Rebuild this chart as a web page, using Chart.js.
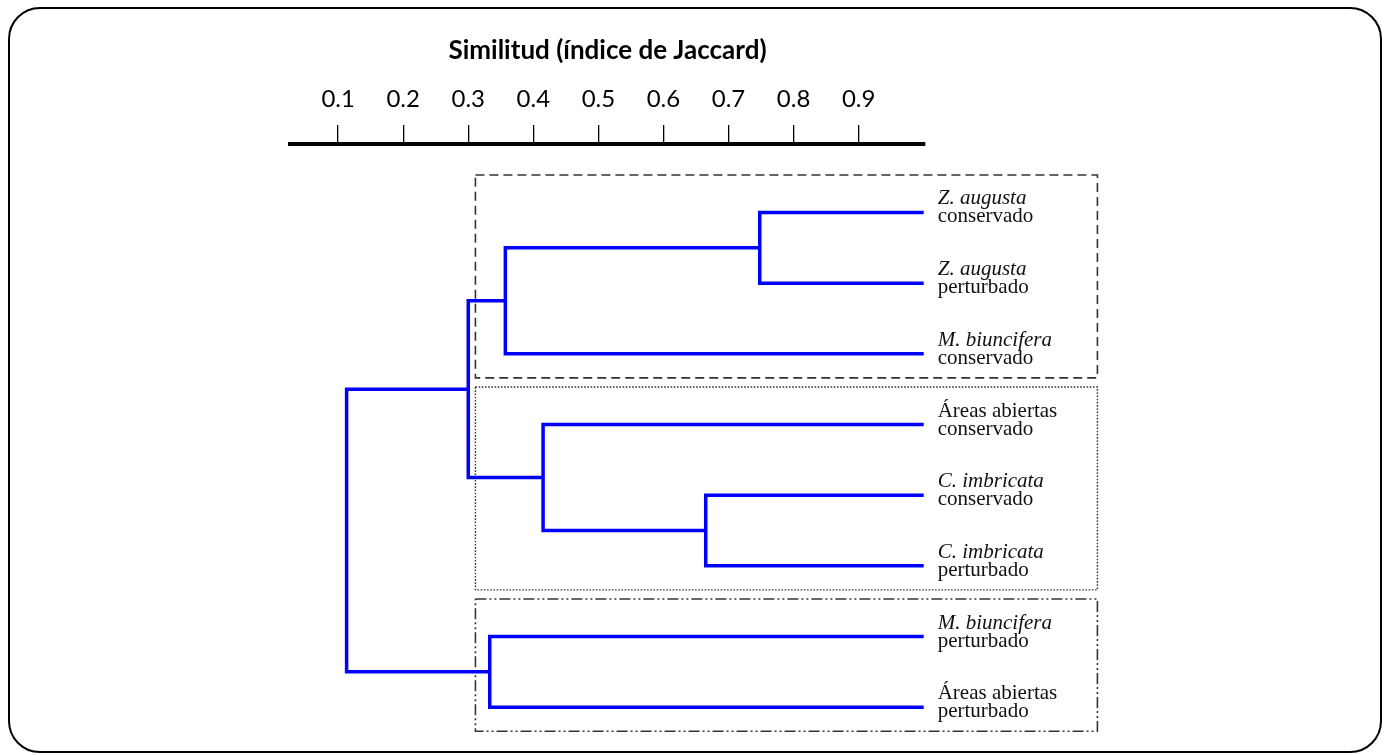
<!DOCTYPE html>
<html>
<head>
<meta charset="utf-8">
<script src="https://cdn.jsdelivr.net/npm/chart.js@4"></script>
<style>
    html, body { margin: 0; padding: 0; background: #fff; }
    #wrap   { position: relative; width: 1389px; height: 755px; }
    #frame  { position: absolute; left: 8px; top: 7px; width: 1370px; height: 742px;
              border: 2.5px solid #000; border-radius: 32px; pointer-events: none; }
</style>
</head>
<body>
<div id="wrap">
    <canvas id="dendro" width="1389" height="755"></canvas>
    <div id="frame"></div>
</div>
<script>
// leaves, top to bottom
const leafSpecies = ['Z. augusta', 'Z. augusta', 'M. biuncifera', 'Áreas abiertas', 'C. imbricata', 'C. imbricata', 'M. biuncifera', 'Áreas abiertas']
const leafItalic  = [true, true, true, false, true, true, true, false]
const leafState   = ['conservado', 'perturbado', 'conservado', 'conservado', 'conservado', 'perturbado', 'perturbado', 'perturbado']

// merges: cluster ids 0..7 are leaves, merge k makes cluster 8 + k
const mergeLeft       = [0, 8, 4, 3, 9, 6, 12]
const mergeRight      = [1, 2, 5, 10, 11, 7, 13]
const mergeSimilarity = [0.748, 0.357, 0.665, 0.415, 0.300, 0.333, 0.113]

// groups framed by boxes (first and last leaf)
const groupFirst = [0, 3, 6]
const groupLast  = [2, 5, 7]

const tickValues = [0.1, 0.2, 0.3, 0.4, 0.5, 0.6, 0.7, 0.8, 0.9]
const axisTitle  = 'Similitud (índice de Jaccard)'

// cluster positions (x = similarity, y = leaf row)
const nodeX = leafSpecies.map(() => 1.0)
const nodeY = leafSpecies.map((s, i) => i)
mergeSimilarity.forEach((s, k) => {
    nodeX.push(s)
    nodeY.push((nodeY[mergeLeft[k]] + nodeY[mergeRight[k]]) / 2)
})

const blue = '#0000ff'
const datasets = []

mergeSimilarity.forEach((s, k) => {
    let a = mergeLeft[k]
    let b = mergeRight[k]
    datasets.push({
        data: [
            { x: nodeX[a], y: nodeY[a] },
            { x: s, y: nodeY[a] },
            { x: s, y: nodeY[b] },
            { x: nodeX[b], y: nodeY[b] },
        ],
        borderColor: blue,
        borderWidth: 3.5,
        borderJoinStyle: 'miter',
        pointRadius: 0,
        showLine: true,
        tension: 0,
        clip: false,
    })
})

const boxDash  = [[9, 5], [1.6, 1.6], [11, 3, 2, 3, 2, 3]]
const boxLeft  = 0.311
const boxRight = 1.267
groupFirst.forEach((f, g) => {
    let top = f - 0.53
    let bot = groupLast[g] + 0.34
    datasets.push({
        data: [
            { x: boxLeft, y: top },
            { x: boxRight, y: top },
            { x: boxRight, y: bot },
            { x: boxLeft, y: bot },
            { x: boxLeft, y: top },
        ],
        borderColor: '#333',
        borderWidth: g == 1 ? 1.4 : 1.6,
        borderDash: boxDash[g],
        pointRadius: 0,
        showLine: true,
        tension: 0,
        clip: false,
        order: 1,
    })
})

// leaf labels right of the leaf ends
const leafLabels = {
    id: 'leafLabels',
    afterDatasetsDraw(chart) {
        const ctx = chart.ctx
        const xs  = chart.scales.x
        const ys  = chart.scales.y
        ctx.save()
        ctx.fillStyle = '#111'
        ctx.textAlign = 'left'
        ctx.textBaseline = 'alphabetic'
        leafSpecies.forEach((name, i) => {
            let px = xs.getPixelForValue(1.0) + 14
            let py = ys.getPixelForValue(i)
            ctx.font = (leafItalic[i] ? 'italic ' : '') + '21px "Liberation Serif", "Times New Roman", serif'
            ctx.fillText(name, px, py - 8)
            ctx.font = '21px "Liberation Serif", "Times New Roman", serif'
            ctx.fillText(leafState[i], px, py + 10)
        })
        ctx.restore()
    }
}

new Chart(document.getElementById('dendro'), {
    type: 'scatter',
    data: { datasets: datasets },
    plugins: [leafLabels],
    options: {
        responsive: false,
        animation: false,
        layout: { padding: { left: 290, right: 464, top: 35, bottom: 15 } },
        plugins: { legend: { display: false }, tooltip: { enabled: false } },
        scales: {
            x: {
                type: 'linear',
                position: 'top',
                min: 0.026,
                max: 1.002,
                afterBuildTicks: (axis) => { axis.ticks = tickValues.map(v => ({ value: v })) },
                border: { display: true, color: '#000', width: 4 },
                grid: { drawOnChartArea: false, drawTicks: true, tickLength: 19, color: '#000', lineWidth: 1.3 },
                ticks: {
                    color: '#000',
                    padding: 11,
                    autoSkip: false,
                    maxRotation: 0,
                    font: { family: 'Lato, "Open Sans", sans-serif', size: 24 },
                    callback: (v) => Number(v).toFixed(1),
                },
                title: {
                    display: true,
                    text: axisTitle,
                    color: '#000',
                    font: { family: 'Lato, "Open Sans", sans-serif', size: 26, weight: 'bold' },
                    padding: { top: 0, bottom: 8 },
                },
            },
            y: {
                type: 'linear',
                display: false,
                reverse: true,
                min: -0.969,
                max: 7.464,
            },
        },
    },
})
</script>
</body>
</html>
